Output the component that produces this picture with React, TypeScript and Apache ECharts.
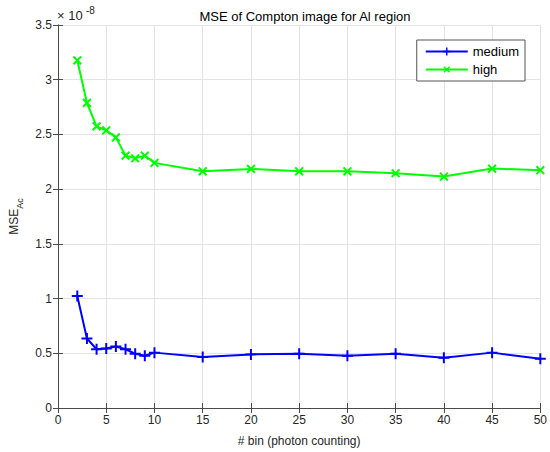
import React, { useEffect, useRef } from "react";
import * as echarts from "echarts";

// Number of bins (photon counting)
const bins = [2, 3, 4, 5, 6, 7, 8, 9, 10, 15, 20, 25, 30, 35, 40, 45, 50];
// MSE values, in units of 1e-8
const mediumMse = [1.024, 0.635, 0.537, 0.543, 0.562, 0.537, 0.496, 0.478, 0.506, 0.465, 0.49, 0.496, 0.478, 0.496, 0.46, 0.506, 0.45];
const highMse = [3.177, 2.788, 2.574, 2.537, 2.473, 2.306, 2.282, 2.306, 2.24, 2.163, 2.185, 2.163, 2.163, 2.145, 2.115, 2.188, 2.173];

const xTicks = [0, 5, 10, 15, 20, 25, 30, 35, 40, 45, 50];
const yTicks = [0, 0.5, 1, 1.5, 2, 2.5, 3, 3.5];

const FONT = "Liberation Sans, Arial, sans-serif";
const AXIS_COLOR = "#4a4a4a";
const TEXT_COLOR = "#262626";

// Filled plus shape; rotated 45 degrees it becomes an "x" marker
const PLUS = "path://M-0.9,-5H0.9V-0.9H5V0.9H0.9V5H-0.9V0.9H-5V-0.9H-0.9Z";

export default function App() {
  const ref = useRef<HTMLDivElement>(null);

  useEffect(() => {
    if (!ref.current) return;
    const chart = echarts.init(ref.current, null, { renderer: "svg" });

    const pair = (ys: number[]) => bins.map((b, i) => [b, ys[i]]);

    const axisCommon = {
      type: "value" as const,
      axisLine: { show: true, lineStyle: { color: AXIS_COLOR, width: 1 } },
      axisTick: { show: true, inside: true, length: 5, lineStyle: { color: AXIS_COLOR } },
    };

    chart.setOption({
      animation: false,
      backgroundColor: "#ffffff",
      textStyle: { fontFamily: FONT },
      title: {
        text: "MSE of Compton image for Al region",
        left: 300,
        textAlign: "center",
        top: 5,
        textStyle: { fontSize: 13, fontWeight: "normal", color: "#000", fontFamily: FONT },
      },
      grid: { left: 58, right: 8, top: 25, bottom: 44 },
      legend: {
        orient: "vertical",
        right: 25,
        top: 40,
        backgroundColor: "#ffffff",
        borderColor: "#555",
        borderWidth: 1,
        borderRadius: 0,
        padding: [5, 6, 5, 8],
        itemGap: 5,
        itemWidth: 42,
        itemHeight: 10,
        textStyle: { fontSize: 13, color: "#000", fontFamily: FONT },
        data: ["medium", "high"],
      },
      // Exponent of the y-axis scale
      graphic: [
        {
          type: "text",
          left: 57,
          top: 9,
          style: { text: "× 10", font: "13px 'Liberation Sans', Arial, sans-serif", fill: TEXT_COLOR },
        },
        {
          type: "text",
          left: 86,
          top: 5,
          style: { text: "-8", font: "10px 'Liberation Sans', Arial, sans-serif", fill: TEXT_COLOR },
        },
      ],
      xAxis: [
        {
          ...axisCommon,
          min: 0,
          max: 50,
          interval: 5,
          position: "bottom",
          name: "# bin (photon counting)",
          nameLocation: "middle",
          nameGap: 27,
          nameTextStyle: { fontSize: 12, color: TEXT_COLOR, fontFamily: FONT },
          axisLabel: {
            fontSize: 12,
            color: TEXT_COLOR,
            margin: 6,
            formatter: (v: number) => (xTicks.includes(v) ? String(v) : ""),
          },
          splitLine: { show: true, lineStyle: { color: "#e3e3e3", width: 1 } },
        },
        {
          ...axisCommon,
          min: 0,
          max: 50,
          interval: 5,
          position: "top",
          axisLabel: { show: false },
          splitLine: { show: false },
        },
      ],
      yAxis: [
        {
          ...axisCommon,
          min: 0,
          max: 3.5,
          interval: 0.5,
          position: "left",
          name: "{m|MSE}{s|Ac}",
          nameLocation: "middle",
          nameGap: 32,
          nameTextStyle: {
            rich: {
              m: { fontSize: 12, color: TEXT_COLOR, fontFamily: FONT, verticalAlign: "top", lineHeight: 16 },
              s: { fontSize: 9, color: TEXT_COLOR, fontFamily: FONT, verticalAlign: "bottom", lineHeight: 16 },
            },
          },
          axisLabel: {
            fontSize: 12,
            color: TEXT_COLOR,
            margin: 6,
            formatter: (v: number) => (yTicks.includes(v) ? String(v) : ""),
          },
          splitLine: { show: true, lineStyle: { color: "#e3e3e3", width: 1 } },
        },
        {
          ...axisCommon,
          min: 0,
          max: 3.5,
          interval: 0.5,
          position: "right",
          axisLabel: { show: false },
          splitLine: { show: false },
        },
      ],
      series: [
        {
          name: "medium",
          type: "line",
          data: pair(mediumMse),
          symbol: PLUS,
          symbolSize: 11,
          showAllSymbol: true,
          lineStyle: { color: "#0000ff", width: 2 },
          itemStyle: { color: "#0000ff" },
          z: 3,
        },
        {
          name: "high",
          type: "line",
          data: pair(highMse),
          symbol: PLUS,
          symbolSize: 11,
          symbolRotate: 45,
          showAllSymbol: true,
          lineStyle: { color: "#00ff00", width: 2 },
          itemStyle: { color: "#00ff00" },
          z: 3,
        },
      ],
    });

    return () => chart.dispose();
  }, []);

  return (
    <div
      ref={ref}
      style={{ position: "absolute", left: 0, top: 0, width: 550, height: 452 }}
    />
  );
}
